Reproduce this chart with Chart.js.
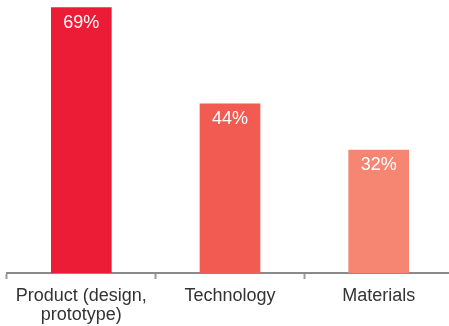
<!DOCTYPE html>
<html>
<head>
<meta charset="utf-8">
<script src="https://cdn.jsdelivr.net/npm/chart.js@4/dist/chart.umd.min.js"></script>
<style>
  html, body { margin: 0; padding: 0; background: #fff; overflow: hidden; }
  #wrap { width: 453px; height: 326px; }
</style>
</head>
<body>
<div id="wrap"><canvas id="barChart" width="453" height="326"></canvas></div>
<script>
// Share by category
const categories = [['Product (design,', 'prototype)'], 'Technology', 'Materials'];
const shares = [69, 44, 32];
const barColors = ['#ED1C36', '#F15B51', '#F68571'];

// draws the "69%" labels inside the top of each bar
const valueLabels = {
    id: 'valueLabels',
    afterDatasetsDraw(chart) {
        const ctx = chart.ctx;
        const meta = chart.getDatasetMeta(0);
        ctx.save();
        ctx.font = '18px "Liberation Sans", Arial, sans-serif';
        ctx.fillStyle = '#ffffff';
        ctx.textAlign = 'center';
        ctx.textBaseline = 'alphabetic';
        meta.data.forEach(function(bar, i) {
            ctx.fillText(shares[i] + '%', bar.x, bar.y + 20);
        });
        ctx.restore();
    }
};

const ctx = document.getElementById('barChart').getContext('2d');
new Chart(ctx, {
    type: 'bar',
    data: {
        labels: categories,
        datasets: [{
            data: shares,
            backgroundColor: barColors,
            borderWidth: 0,
            barThickness: 60
        }]
    },
    options: {
        responsive: false,
        animation: false,
        layout: { padding: { left: 7, right: 0, top: 0, bottom: 0 } },
        plugins: {
            legend: { display: false },
            tooltip: { enabled: false }
        },
        scales: {
            x: {
                offset: true,
                grid: {
                    drawOnChartArea: false,
                    drawTicks: true,
                    tickLength: 6,
                    tickColor: '#9a9a9a',
                    tickWidth: 2,
                    offset: true
                },
                border: { display: true, color: '#8a8a8a', width: 2 },
                ticks: {
                    color: '#333333',
                    font: { family: '"Liberation Sans", Arial, sans-serif', size: 18, lineHeight: '19px' },
                    padding: 8,
                    maxRotation: 0,
                    minRotation: 0,
                    autoSkip: false
                },
                afterFit: function(scale) {
                    scale.height = 53;
                }
            },
            y: {
                display: false,
                min: 0,
                max: 71
            }
        }
    },
    plugins: [valueLabels]
});
</script>
</body>
</html>
